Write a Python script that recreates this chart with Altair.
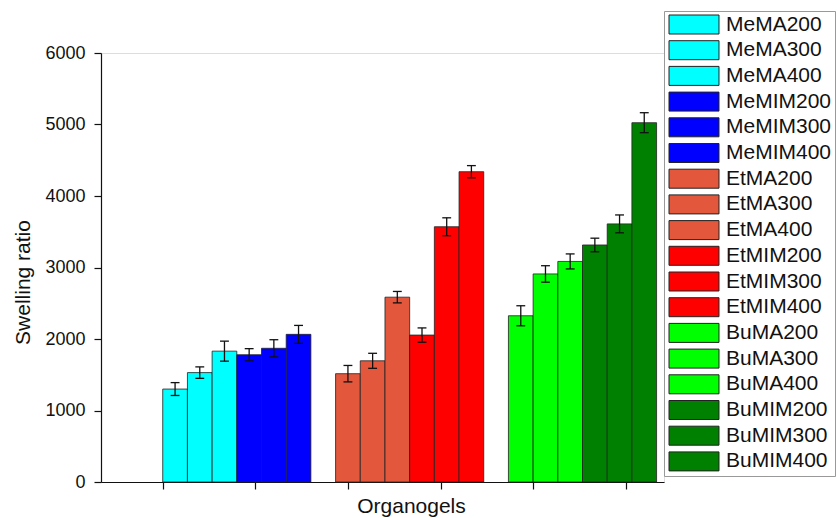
import altair as alt
import pandas as pd

names = ["MeMA200", "MeMA300", "MeMA400", "MeMIM200", "MeMIM300", "MeMIM400",
         "EtMA200", "EtMA300", "EtMA400", "EtMIM200", "EtMIM300", "EtMIM400",
         "BuMA200", "BuMA300", "BuMA400", "BuMIM200", "BuMIM300", "BuMIM400"]
values = [1300, 1530, 1830, 1780, 1870, 2065,
          1515, 1695, 2585, 2055, 3570, 4340,
          2325, 2910, 3085, 3315, 3610, 5025]
errors = [90, 80, 140, 85, 120, 125,
          115, 105, 80, 100, 125, 85,
          140, 115, 105, 95, 125, 140]
colors = ["#00ffff", "#00ffff", "#00ffff", "#0000ff", "#0000ff", "#0000ff",
          "#e3573c", "#e3573c", "#e3573c", "#ff0000", "#ff0000", "#ff0000",
          "#00ff00", "#00ff00", "#00ff00", "#008000", "#008000", "#008000"]
x_ticks = [0, 3.75, 7.5, 11.25, 15, 18.75]
y_ticks = list(range(0, 6001, 250))

rows = []
for i, (n, v, e) in enumerate(zip(names, values, errors)):
    g, j = divmod(i, 6)
    start = g * 7 + j
    c = start + 0.5
    rows.append(dict(name=n, value=v, lo=v - e, hi=v + e, xs=start, xe=start + 1,
                     cl=c - 0.18, cr=c + 0.18, c=c))
df = pd.DataFrame(rows)

FONT = "Liberation Sans"
xscale = alt.Scale(domain=[-2.5, 20.3], nice=False, zero=False)
yscale = alt.Scale(domain=[0, 6000], nice=False)

x_axis = alt.Axis(values=x_ticks, labels=False, tickSize=7, grid=False,
                  domainColor="#111", tickColor="#111", tickWidth=1.2, domainWidth=1.2,
                  title="Organogels", titleFontSize=21, titleFont=FONT, titleFontWeight="normal",
                  titleX=310, titleY=30, titleBaseline="alphabetic", titleColor="#111")
y_axis = alt.Axis(values=y_ticks,
                  labelExpr="datum.value % 500 === 0 ? datum.label : ''",
                  tickSize={"condition": {"test": "datum.value % 500 !== 0", "value": 4}, "value": 7},
                  labelOverlap=False, grid=False, format="d",
                  domainColor="#111", tickColor="#111", tickWidth=1.2, domainWidth=1.2,
                  labelFontSize=18, labelFont=FONT, labelPadding=9, labelColor="#111",
                  title="Swelling ratio", titleFontSize=21, titleFont=FONT, titleFontWeight="normal",
                  titleX=-78, titleY=229, titleAlign="center", titleBaseline="middle",
                  titleAngle=270, titleColor="#111")

legend = alt.Legend(orient="none", legendX=563, legendY=-42, title=None,
                    direction="vertical", padding=3, strokeColor="#999", fillColor="white",
                    symbolType="M-2.63,-1H2.63V1H-2.63Z", symbolSize=361,
                    symbolOffset=16.5,
                    symbolStrokeColor="#222", symbolStrokeWidth=1, symbolOpacity=1,
                    labelFontSize=21, labelFont=FONT, labelColor="#111", labelOffset=21.5,
                    rowPadding=2.7, symbolLimit=0)

bars = alt.Chart(df).mark_bar(stroke="#222", strokeWidth=0.8, opacity=1).encode(
    x=alt.X("xs:Q", scale=xscale, axis=x_axis),
    x2="xe:Q",
    y=alt.Y("value:Q", scale=yscale, axis=y_axis),
    y2=alt.datum(0),
    color=alt.Color("name:N", scale=alt.Scale(domain=names, range=colors),
                    sort=names, legend=legend),
)

err = alt.Chart(df).mark_rule(color="#111", strokeWidth=1.3).encode(
    x="c:Q", y="lo:Q", y2="hi:Q")
cap_top = alt.Chart(df).mark_rule(color="#111", strokeWidth=1.3).encode(
    x="cl:Q", x2="cr:Q", y="hi:Q")
cap_bot = alt.Chart(df).mark_rule(color="#111", strokeWidth=1.3).encode(
    x="cl:Q", x2="cr:Q", y="lo:Q")

chart = alt.layer(bars, err, cap_top, cap_bot).properties(
    width=563, height=429,
    autosize=alt.AutoSizeParams(type="none"),
    padding={"left": 101, "top": 53, "right": 172, "bottom": 35},
).configure_view(stroke=None).configure(font=FONT)

chart.save("out.html", embed_options={"renderer": "svg", "actions": False})
